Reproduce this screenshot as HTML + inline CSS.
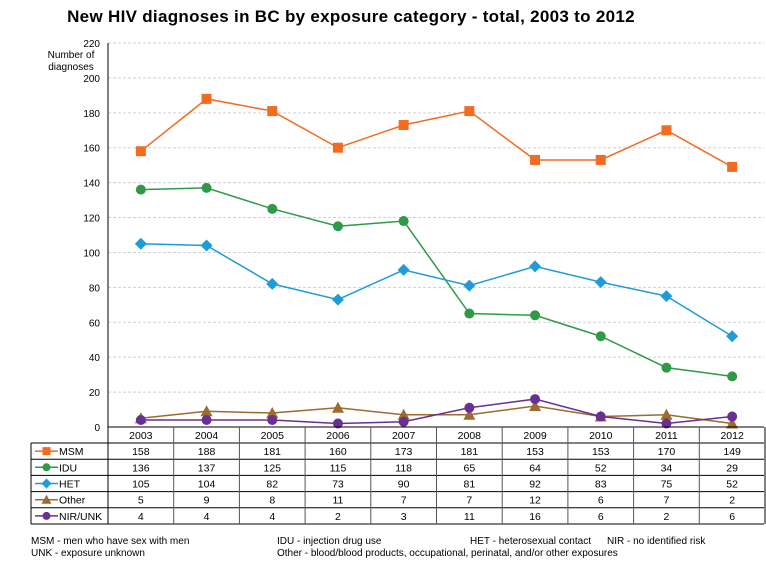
<!DOCTYPE html>
<html><head><meta charset="utf-8"><style>
body{margin:0;background:#fff;font-family:"Liberation Sans",sans-serif;}
</style></head><body>
<svg width="766" height="562" xmlns="http://www.w3.org/2000/svg" font-family="Liberation Sans, sans-serif">
<text x="351" y="22" text-anchor="middle" font-size="17" font-weight="bold" letter-spacing="0.3">New HIV diagnoses in BC by exposure category - total, 2003 to 2012</text>
<text x="71" y="58" text-anchor="middle" font-size="10">Number of</text>
<text x="71" y="70" text-anchor="middle" font-size="10">diagnoses</text>
<g id="grid"></g><g id="series"></g><g id="table"></g>
<text x="31" y="544" font-size="10">MSM - men who have sex with men</text>
<text x="31" y="556" font-size="10">UNK - exposure unknown</text>
<text x="277" y="544" font-size="10">IDU - injection drug use</text>
<text x="470" y="544" font-size="10">HET - heterosexual contact</text>
<text x="607" y="544" font-size="10">NIR - no identified risk</text>
<text x="277" y="556" font-size="10">Other - blood/blood products, occupational, perinatal, and/or other exposures</text>
</svg>
<script>
const years=["2003","2004","2005","2006","2007","2008","2009","2010","2011","2012"];
const msm=[158,188,181,160,173,181,153,153,170,149];
const idu=[136,137,125,115,118,65,64,52,34,29];
const het=[105,104,82,73,90,81,92,83,75,52];
const other=[5,9,8,11,7,7,12,6,7,2];
const nir=[4,4,4,2,3,11,16,6,2,6];
const yTicks=[0,20,40,60,80,100,120,140,160,180,200,220];
const NS="http://www.w3.org/2000/svg";
const x0=108,cw=65.7,yBase=427,yTop=43;
const X=i=>x0+cw*(i+0.5);
const Y=v=>yBase-(v/220)*(yBase-yTop);
function mk(t,a,p){const e=document.createElementNS(NS,t);for(const k in a)e.setAttribute(k,a[k]);p.appendChild(e);return e;}
const grid=document.getElementById('grid');
yTicks.forEach(v=>{
 if(v>0){const l=mk('line',{x1:x0,x2:764,y1:Y(v),y2:Y(v),stroke:'#d0d0d0','stroke-dasharray':'3,2'},grid);
 
 }
 const t=mk('text',{x:100,y:Y(v)+4,'text-anchor':'end','font-size':'10'},grid);t.textContent=v;
 
 
});
const ax=mk('line',{x1:x0,x2:x0,y1:yTop,y2:yBase,stroke:'#000'},grid);


const series=[
 {n:'MSM',d:msm,c:'#f26b21',m:'sq'},
 {n:'IDU',d:idu,c:'#2e9a47',m:'ci'},
 {n:'HET',d:het,c:'#1f9bd7',m:'di'},
 {n:'Other',d:other,c:'#9b6b2f',m:'tr'},
 {n:'NIR/UNK',d:nir,c:'#6a2f92',m:'ci'}];
function marker(s,x,y,p,sz){
 let e;
 if(s.m==='sq')e=mk('rect',{x:x-sz,y:y-sz,width:2*sz,height:2*sz,fill:s.c},p);
 else if(s.m==='ci')e=mk('circle',{cx:x,cy:y,r:sz,fill:s.c},p);
 else if(s.m==='di')e=mk('polygon',{points:`${x},${y-sz-1} ${x+sz+1},${y} ${x},${y+sz+1} ${x-sz-1},${y}`,fill:s.c},p);
 else e=mk('polygon',{points:`${x},${y-sz-1} ${x+sz+1},${y+sz} ${x-sz-1},${y+sz}`,fill:s.c},p);
 return e;}
const sg=document.getElementById('series');
series.forEach(s=>{
 const pl=mk('polyline',{points:s.d.map((v,i)=>X(i)+','+Y(v)).join(' '),fill:'none',stroke:s.c,'stroke-width':1.5},sg);
 
 
 s.d.forEach((v,i)=>{const m=marker(s,X(i),Y(v),sg,5);
  
  });
});
const tb=document.getElementById('table');
const rowH=16.2,hdrB=443,xL=31,xR=764;
mk('line',{x1:x0,x2:xR,y1:yBase,y2:yBase,stroke:'#000'},tb);
mk('line',{x1:xL,x2:xR,y1:hdrB,y2:hdrB,stroke:'#000'},tb);
for(let r=1;r<=5;r++)mk('line',{x1:xL,x2:xR,y1:hdrB+r*rowH,y2:hdrB+r*rowH,stroke:'#000'},tb);
mk('line',{x1:xL,x2:xL,y1:hdrB,y2:hdrB+5*rowH,stroke:'#000'},tb);
for(let c=0;c<=10;c++)mk('line',{x1:x0+c*cw,x2:x0+c*cw,y1:yBase,y2:hdrB+5*rowH,stroke:c==0||c==10?'#000':'#555'},tb);
years.forEach((y,i)=>{const t=mk('text',{x:X(i),y:yBase+12,'text-anchor':'middle','font-size':'10.5'},tb);t.textContent=y;
 
 });
series.forEach((s,r)=>{
 const cy=hdrB+r*rowH+rowH/2;
 mk('line',{x1:35,x2:58,y1:cy,y2:cy,stroke:s.c,'stroke-width':1.5},tb);
 const lm=marker(s,46.5,cy,tb,4);
 
 
 const lt=mk('text',{x:59,y:cy+4,'font-size':'10.5'},tb);lt.textContent=s.n;
 
 
 s.d.forEach((v,i)=>{const t=mk('text',{x:X(i),y:cy+4,'text-anchor':'middle','font-size':'10.5'},tb);t.textContent=v;
  
  });
});
</script>
</body></html>
